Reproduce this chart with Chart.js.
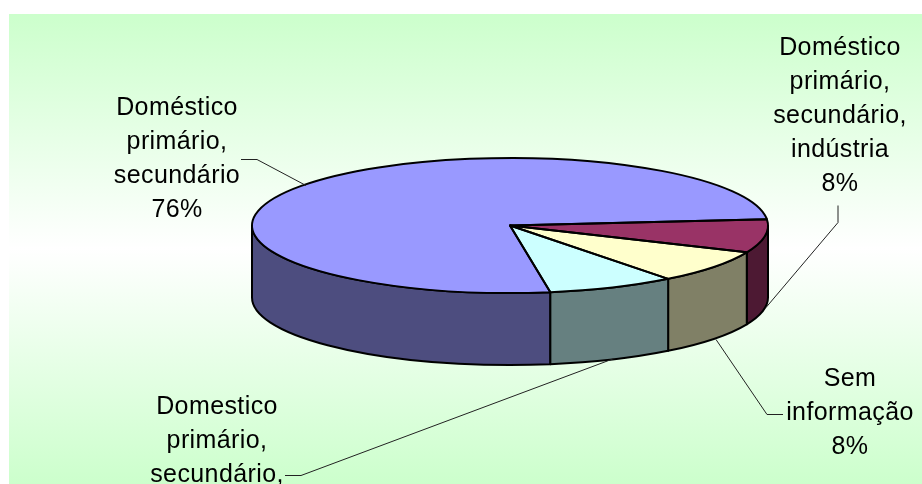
<!DOCTYPE html>
<html>
<head>
<meta charset="utf-8">
<style>html,body{margin:0;padding:0;background:#fff}canvas{display:block}</style>
<script src="https://cdn.jsdelivr.net/npm/chart.js@4"></script>
</head>
<body>
<canvas id="c" width="922" height="484"></canvas>
<script>
const categories = [
  "Doméstico primário, secundário",
  "Doméstico primário, secundário, indústria",
  "Sem informação",
  "Domestico primário, secundário,"
];
const values = [76, 8, 8, 8];
const topColors = ["#9999FF", "#993366", "#FFFFCC", "#CCFFFF"];
const wallColors = ["#4D4D7F", "#4D1933", "#808066", "#668080"];
const labelLines = [
  ["Doméstico", "primário,", "secundário", "76%"],
  ["Doméstico", "primário,", "secundário,", "indústria", "8%"],
  ["Sem", "informação", "8%"],
  ["Domestico", "primário,", "secundário,"]
];
// Layout only
const labelPos = [[177, 115, 34], [840, 55, 34], [850, 386, 34], [217, 414, 34]];
const leaders = [
  [[241, 159], [257, 159], [306, 185]],
  [[838, 205], [838, 222], [766, 307]],
  [[783, 414], [767, 414], [716, 339]],
  [[285, 475], [301, 475], [614, 358]]
];
const CY = 225.5, RY = 67.5, DEPTH = 72, RX = 258;

function arcs(chart) { return chart.getDatasetMeta(0).data; }

const pie3d = {
  id: 'pie3d',
  beforeDraw(chart) {
    const ctx = chart.ctx;
    const g = ctx.createLinearGradient(0, 14, 0, 484);
    g.addColorStop(0, '#CCFFCC');
    g.addColorStop(0.5, '#FFFFFF');
    g.addColorStop(1, '#CCFFCC');
    ctx.save();
    ctx.fillStyle = '#FFFFFF';
    ctx.fillRect(0, 0, 922, 484);
    ctx.fillStyle = g;
    ctx.fillRect(9, 14, 913, 470);
    ctx.restore();
  },
  beforeDatasetsDraw(chart) {
    const ctx = chart.ctx;
    ctx.save();
    ctx.lineWidth = 2;
    ctx.strokeStyle = '#000';
    ctx.lineJoin = 'round';
    arcs(chart).forEach((a, i) => {
      const p = a.getProps(['x', 'startAngle', 'endAngle']);
      for (const shift of [-2 * Math.PI, 0, 2 * Math.PI]) {
        const s = Math.max(p.startAngle + shift, 0);
        const e = Math.min(p.endAngle + shift, Math.PI);
        if (e <= s) continue;
        ctx.beginPath();
        ctx.ellipse(p.x, CY, RX, RY, 0, s, e);
        ctx.ellipse(p.x, CY + DEPTH, RX, RY, 0, e, s, true);
        ctx.closePath();
        ctx.fillStyle = wallColors[i];
        ctx.fill();
        ctx.stroke();
      }
    });
    ctx.restore();
    // flatten the library's own pie into the ellipse of the top face
    const c = arcs(chart)[0];
    ctx.save();
    ctx.translate(0, CY);
    ctx.scale(1, RY / RX);
    ctx.translate(0, -c.y);
  },
  afterDatasetsDraw(chart) {
    const ctx = chart.ctx;
    ctx.restore();
    ctx.save();
    ctx.lineWidth = 2;
    ctx.strokeStyle = '#000';
    ctx.lineJoin = 'round';
    arcs(chart).forEach(a => {
      const p = a.getProps(['x', 'startAngle', 'endAngle']);
      ctx.beginPath();
      ctx.moveTo(p.x, CY);
      ctx.ellipse(p.x, CY, RX, RY, 0, p.startAngle, p.endAngle);
      ctx.closePath();
      ctx.stroke();
    });
    // leader lines
    ctx.lineWidth = 1;
    ctx.strokeStyle = '#222';
    leaders.forEach(l => {
      ctx.beginPath();
      l.forEach((pt, j) => j ? ctx.lineTo(pt[0], pt[1] + 0.5) : ctx.moveTo(pt[0], pt[1] + 0.5));
      ctx.stroke();
    });
    // labels
    ctx.fillStyle = '#000';
    ctx.font = '25px "Liberation Sans", Arial, sans-serif';
    ctx.letterSpacing = '0.4px';
    ctx.textAlign = 'center';
    ctx.textBaseline = 'alphabetic';
    labelLines.forEach((lines, i) => {
      const [x, y, dy] = labelPos[i];
      lines.forEach((t, j) => ctx.fillText(t, x, y + j * dy));
    });
    ctx.restore();
  }
};

new Chart(document.getElementById('c'), {
  type: 'pie',
  data: {
    labels: categories,
    datasets: [{
      data: values,
      backgroundColor: topColors,
      borderWidth: 0,
      clip: false
    }]
  },
  options: {
    responsive: false,
    animation: false,
    radius: RX,
    rotation: 171,
    layout: { padding: { left: 98 } },
    plugins: { legend: { display: false }, tooltip: { enabled: false } }
  },
  plugins: [pie3d]
});
</script>
</body>
</html>
